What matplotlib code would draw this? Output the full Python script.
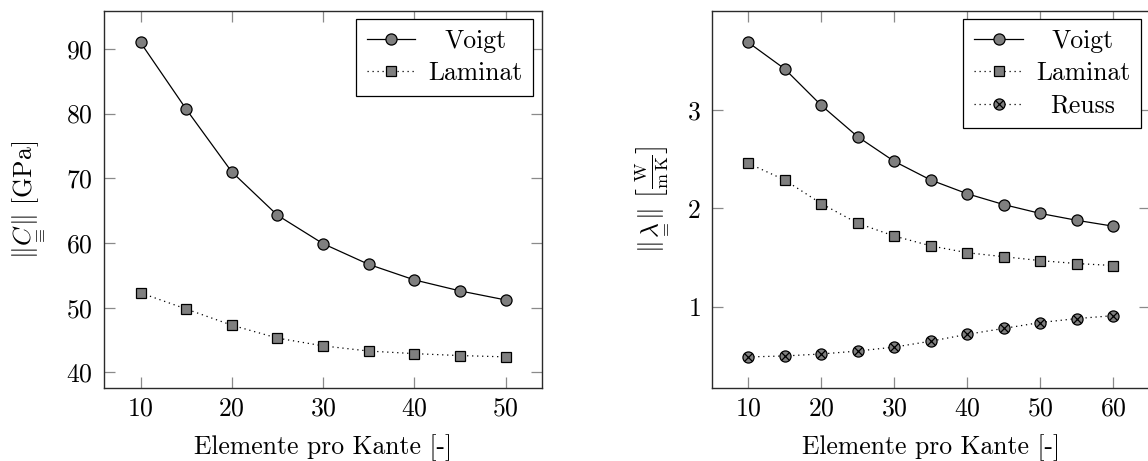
import matplotlib
matplotlib.use("Agg")
import matplotlib.pyplot as plt
from matplotlib.legend_handler import HandlerTuple

# --- data -----------------------------------------------------------------
elements_c = [10, 15, 20, 25, 30, 35, 40, 45, 50]
c_voigt = [91.0, 80.7, 71.0, 64.3, 59.9, 56.7, 54.3, 52.6, 51.2]
c_laminat = [52.3, 49.8, 47.3, 45.3, 44.1, 43.3, 42.9, 42.6, 42.4]

elements_l = [10, 15, 20, 25, 30, 35, 40, 45, 50, 55, 60]
l_voigt = [3.69, 3.42, 3.05, 2.73, 2.48, 2.29, 2.15, 2.04, 1.95, 1.88, 1.82]
l_laminat = [2.46, 2.29, 2.05, 1.85, 1.72, 1.62, 1.55, 1.51, 1.47, 1.44, 1.42]
l_reuss = [0.49, 0.50, 0.52, 0.55, 0.59, 0.65, 0.72, 0.78, 0.84, 0.88, 0.91]

c_yticks = [40, 50, 60, 70, 80, 90]
c_xticks = [10, 20, 30, 40, 50]
l_yticks = [1, 2, 3]
l_xticks = [10, 20, 30, 40, 50, 60]

xlabel = "Elemente pro Kante [-]"
c_ylabel = r"$\Vert\underset{\equiv}{C}\Vert$ [GPa]"
l_ylabel = r"$\Vert\underset{=}{\lambda}\Vert\ \left[\frac{\mathrm{W}}{\mathrm{m\,K}}\right]$"

# --- style ----------------------------------------------------------------
FS = 18.5
plt.rcParams["font.family"] = ["cmr10", "DejaVu Serif"]
plt.rcParams["mathtext.fontset"] = "cm"
plt.rcParams["axes.formatter.use_mathtext"] = True
plt.rcParams["font.size"] = FS

FACE = "#7f7f7f"
SPINE = "#2a2a2a"
TICK = "#8a8a8a"
DOTS = (0, (1, 3))

fig = plt.figure(figsize=(11.48, 4.61), dpi=100)
W, H = 1148, 461
ax1 = fig.add_axes([104 / W, 1 - 388.3 / H, 438 / W, 377.3 / H])
ax2 = fig.add_axes([711.7 / W, 1 - 388.3 / H, 438 / W, 377.3 / H])


def style_axes(ax, xticks, yticks):
    ax.set_xticks(xticks)
    ax.set_yticks(yticks)
    for s in ax.spines.values():
        s.set_color(SPINE)
        s.set_linewidth(1.0)
    ax.tick_params(direction="in", length=8, width=0.9, color=TICK,
                   top=True, right=True, labelsize=FS)
    ax.tick_params(axis="y", pad=8)
    ax.tick_params(axis="x", pad=6)


def place_labels(ax, xlab, ylab, ylab_x):
    ax.set_xlabel(xlab, fontsize=FS, va="center")
    ax.set_ylabel(ylab, fontsize=FS, va="center")
    ax.xaxis.set_label_coords(0.5, -0.156)
    ax.yaxis.set_label_coords(ylab_x, 0.5)


def make_legend(ax, handles=None, labels=None, **kw):
    args = [] if handles is None else [handles, labels]
    leg = ax.legend(*args, loc="upper right", bbox_to_anchor=(0.98, 0.98),
                    borderaxespad=0, fancybox=False, framealpha=1,
                    edgecolor="black", handlelength=1.9, handletextpad=0.5,
                    labelspacing=0.33, borderpad=0.42, fontsize=FS, **kw)
    leg.get_frame().set_linewidth(0.9)
    return leg


def center_legend_text(fig, leg):
    fig.canvas.draw()
    r = fig.canvas.get_renderer()
    texts = leg.get_texts()
    widths = [t.get_window_extent(r).width for t in texts]
    wmax = max(widths)
    for t, w in zip(texts, widths):
        t.set_x((wmax - w) / 2)


mk = dict(markeredgecolor="black", markerfacecolor=FACE, markeredgewidth=0.9)

# left panel: stiffness norm
ax1.plot(elements_c, c_voigt, "-", color="black", lw=0.9, marker="o",
         markersize=8, label="Voigt", **mk)
ax1.plot(elements_c, c_laminat, linestyle=DOTS, color="black", lw=0.9,
         marker="s", markersize=7.5, label="Laminat", **mk)
ax1.set_xlim(6, 54)
ax1.set_ylim(37.54, 95.86)
style_axes(ax1, c_xticks, c_yticks)
place_labels(ax1, xlabel, c_ylabel, -0.174)
leg1 = make_legend(ax1)

# right panel: conductivity norm
ax2.plot(elements_l, l_voigt, "-", color="black", lw=0.9, marker="o",
         markersize=8, label="Voigt", **mk)
ax2.plot(elements_l, l_laminat, linestyle=DOTS, color="black", lw=0.9,
         marker="s", markersize=7.5, label="Laminat", **mk)
r_o, = ax2.plot(elements_l, l_reuss, linestyle=DOTS, color="black", lw=0.9,
                marker="o", markersize=8, **mk)
r_x, = ax2.plot(elements_l, l_reuss, linestyle="none", marker="x",
                markersize=5.5, markeredgecolor="black", markeredgewidth=0.9)
ax2.set_xlim(5, 65)
ax2.set_ylim(0.171, 4.009)
style_axes(ax2, l_xticks, l_yticks)
place_labels(ax2, xlabel, l_ylabel, -0.136)
h, lab = ax2.get_legend_handles_labels()
h.append((r_o, r_x))
lab.append("Reuss")
leg2 = make_legend(ax2, h, lab,
                   handler_map={tuple: HandlerTuple(ndivide=1, pad=0)})

center_legend_text(fig, leg1)
center_legend_text(fig, leg2)

fig.savefig("out.png", dpi=100)
